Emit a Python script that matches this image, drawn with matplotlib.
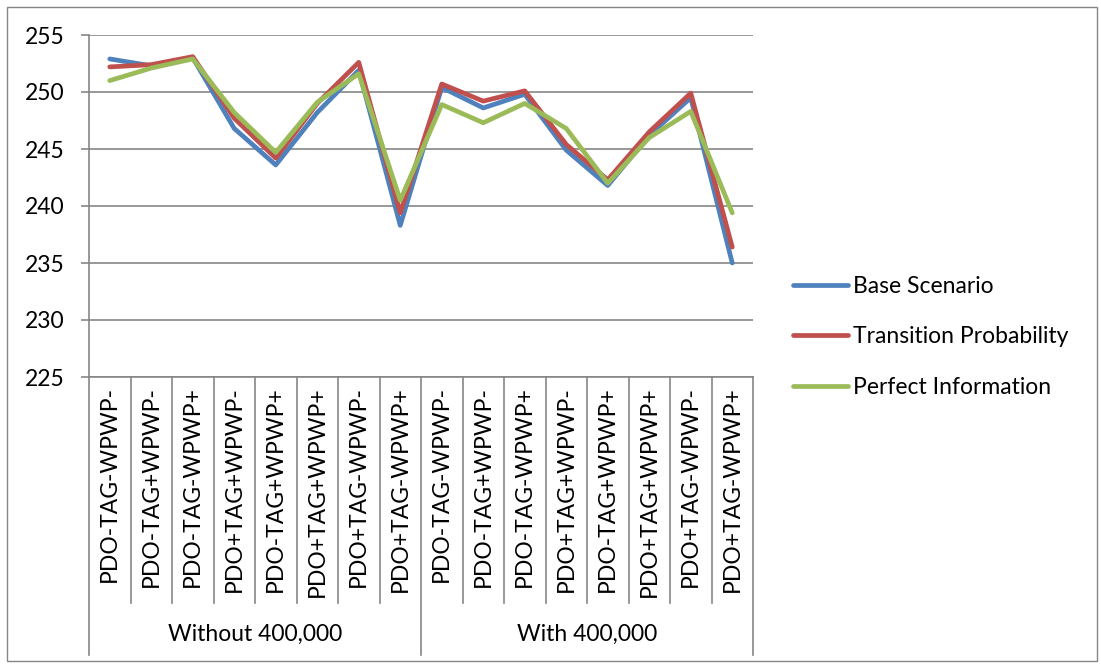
import matplotlib
matplotlib.use("Agg")
import matplotlib.pyplot as plt
from matplotlib.patches import Rectangle

categories = ["PDO-TAG-WPWP-", "PDO-TAG+WPWP-", "PDO-TAG-WPWP+", "PDO+TAG+WPWP-",
              "PDO-TAG+WPWP+", "PDO+TAG+WPWP+", "PDO+TAG-WPWP-", "PDO+TAG-WPWP+"] * 2
groups = ["Without 400,000", "With 400,000"]

base = [252.9, 252.3, 253.0, 246.8, 243.6, 248.2, 251.9, 238.3,
        250.4, 248.6, 249.8, 244.9, 241.8, 246.2, 249.5, 235.0]
transition = [252.2, 252.4, 253.1, 247.7, 244.2, 249.0, 252.6, 239.4,
              250.7, 249.2, 250.1, 245.4, 242.3, 246.5, 249.9, 236.4]
perfect = [251.0, 252.1, 252.9, 248.2, 244.7, 249.1, 251.6, 240.5,
           248.9, 247.3, 249.0, 246.8, 242.0, 246.0, 248.3, 239.4]

series = [("Base Scenario", base, "#4F81BD"),
          ("Transition Probability", transition, "#C0504D"),
          ("Perfect Information", perfect, "#9BBB59")]

FONT = "Lato"
FS = 16.5
W, H = 1101, 666
fig = plt.figure(figsize=(W / 100, H / 100), dpi=100)

L, R, T, B = 89, 753, 35, 377
ax = fig.add_axes([L / W, 1 - B / H, (R - L) / W, (B - T) / H])

x = list(range(len(categories)))
for name, vals, col in series:
    ax.plot(x, vals, color=col, lw=3.4, label=name, solid_joinstyle="round",
            solid_capstyle="round")

grid_col = "#868686"
ax.set_xlim(-0.5, len(categories) - 0.5)
ax.set_ylim(225, 255)
ax.set_yticks(range(225, 256, 5))
ax.yaxis.grid(True, color=grid_col, lw=1.2)
ax.set_axisbelow(True)
for s in ["top", "right"]:
    ax.spines[s].set_visible(False)
for s in ["left", "bottom"]:
    ax.spines[s].set_color(grid_col)
    ax.spines[s].set_linewidth(1.2)
ax.tick_params(axis="y", length=5.8, width=1.2, color=grid_col, labelsize=FS,
               pad=12)
for lab in ax.get_yticklabels():
    lab.set_fontfamily(FONT)
ax.set_xticks([])

ph = B - T
def ay(py):
    return (B - py) / ph

tr = ax.get_xaxis_transform()
n = len(categories)
for i in range(n + 1):
    xb = i - 0.5
    bottom = ay(655) if i in (0, n // 2, n) else ay(603)
    ax.plot([xb, xb], [0, bottom], transform=tr, color=grid_col, lw=1.2,
            clip_on=False)
for i, c in enumerate(categories):
    ax.text(i, ay(386), c, transform=tr, rotation=90, ha="center", va="top",
            fontsize=FS, fontfamily=FONT)
half = n // 2
for g, name in enumerate(groups):
    ax.text(g * half + (half - 1) / 2, ay(634), name, transform=tr,
            ha="center", va="center", fontsize=FS, fontfamily=FONT)

leg = ax.legend(loc="center left", bbox_to_anchor=((793 - L) / (R - L), ay(337)),
                frameon=False, prop={"family": FONT, "size": FS},
                handlelength=2.4, handletextpad=0.22, labelspacing=1.3,
                borderpad=0, borderaxespad=0)

fig.patches.append(Rectangle((7 / W, 1 - 661 / H), (1097 - 7) / W, (661 - 7) / H,
                             transform=fig.transFigure, fill=False,
                             edgecolor=grid_col, lw=1.0))

fig.savefig("out.png", dpi=100)
